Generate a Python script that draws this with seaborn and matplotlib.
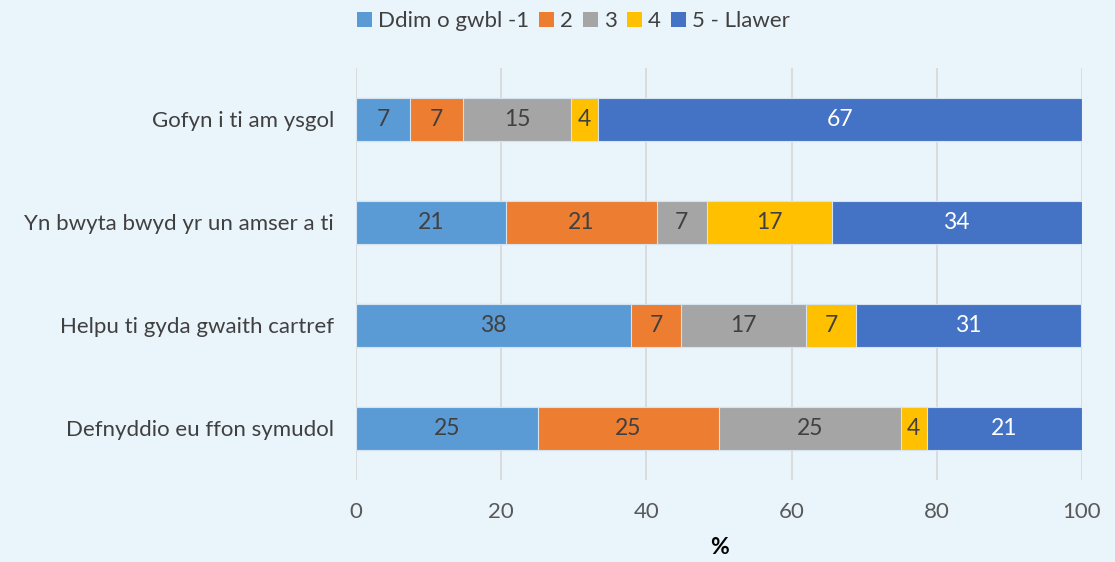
import matplotlib
matplotlib.use("Agg")
import matplotlib.pyplot as plt
from matplotlib.patches import Patch
import seaborn as sns
import pandas as pd
import numpy as np

categories = ["Gofyn i ti am ysgol", "Yn bwyta bwyd yr un amser a ti",
              "Helpu ti gyda gwaith cartref", "Defnyddio eu ffon symudol"]
series_names = ["Ddim o gwbl -1", "2", "3", "4", "5 - Llawer"]
s1 = [7.4, 20.7, 37.9, 25.0]
s2 = [7.4, 20.7, 6.9, 25.0]
s3 = [14.8, 6.9, 17.2, 25.0]
s4 = [3.7, 17.2, 6.9, 3.6]
s5 = [66.7, 34.5, 31.0, 21.4]
colors = ["#5B9BD5", "#ED7D31", "#A5A5A5", "#FFC000", "#4472C4"]
text_colors = ["#404040", "#404040", "#404040", "#404040", "#FFFFFF"]
xticks = [0, 20, 40, 60, 80, 100]

bg = "#EAF4FB"
sns.set_theme(style="white")
plt.rcParams["font.family"] = ["Lato", "DejaVu Sans"]

series = [s1, s2, s3, s4, s5]
vals = np.array(series)
cum = np.cumsum(vals, axis=0)

fig = plt.figure(figsize=(11.15, 5.62), dpi=100, facecolor=bg)
ax = fig.add_axes([0.3193, 0.146, 0.9704 - 0.3193, 0.879 - 0.146])
ax.set_facecolor(bg)

for i in range(len(series) - 1, -1, -1):
    df = pd.DataFrame({"cat": categories, "val": cum[i]})
    sns.barplot(data=df, x="val", y="cat", orient="h", color=colors[i],
                width=0.41, saturation=1, edgecolor="#D6E4F0", linewidth=0.8,
                ax=ax, zorder=3 + (len(series) - i))

for i in range(len(series)):
    for j, cat in enumerate(categories):
        start = cum[i][j] - vals[i][j]
        ax.text(start + vals[i][j] / 2, j, f"{vals[i][j]:.0f}", ha="center",
                va="center", color=text_colors[i], fontsize=16.5, zorder=20)

ax.set_xlim(0, 100)
ax.set_ylim(3.5, -0.5)
ax.set_xticks(xticks)
ax.set_xticklabels([str(t) for t in xticks])
ax.xaxis.grid(True, color="#D9D9D9", linewidth=1.3, zorder=0)
ax.set_axisbelow(True)
for sp in ax.spines.values():
    sp.set_visible(False)
ax.tick_params(axis="x", length=0, pad=16, labelsize=16, labelcolor="#595959")
ax.tick_params(axis="y", length=0, pad=16, labelsize=16, labelcolor="#404040")
ax.set_ylabel("")
ax.set_xlabel("%", fontsize=16.5, fontweight="bold", color="#000000", labelpad=11)

handles = [Patch(facecolor=c, edgecolor="none", label=n) for c, n in zip(colors, series_names)]
leg = fig.legend(handles=handles, loc="center", bbox_to_anchor=(0.514, 0.962), ncol=5,
                 frameon=False, fontsize=16, handlelength=0.7, handleheight=0.7,
                 handletextpad=0.25, columnspacing=0.45)
for t in leg.get_texts():
    t.set_color("#404040")

fig.savefig("out.png", dpi=100, facecolor=bg)
